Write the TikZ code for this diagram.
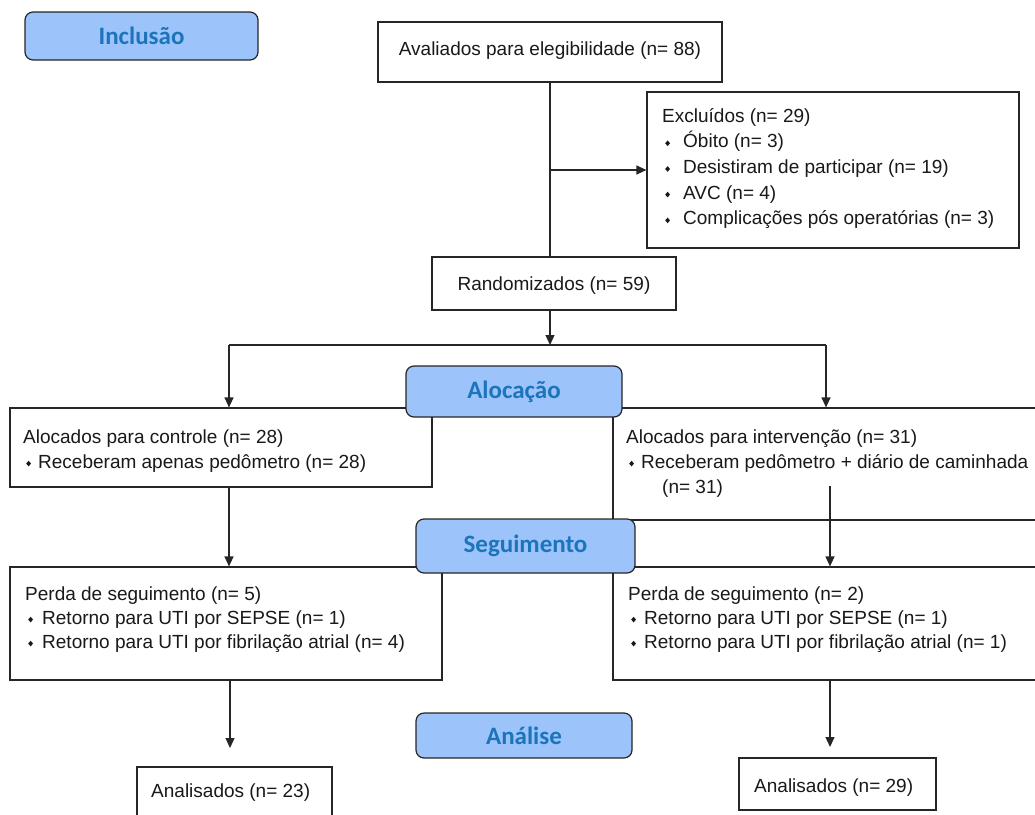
\documentclass[tikz,border=0pt]{standalone}
\usepackage{fontspec}
\setmainfont{Liberation Sans}
\newfontfamily\labfont{Carlito}
\usetikzlibrary{arrows.meta}
\definecolor{labfill}{HTML}{9DC3FB}
\definecolor{labtext}{HTML}{1C74BA}
\definecolor{linecol}{HTML}{262626}
\newcommand\bul{\raisebox{1.6pt}{\scalebox{0.85}[1]{\rotatebox{45}{\rule{4pt}{4pt}}}}}
\begin{document}
\begin{tikzpicture}[x=1pt,y=-1pt,
  box/.style={draw=linecol,line width=1.2pt,fill=white,inner sep=0pt},
  lab/.style={draw=linecol,line width=1.2pt,fill=labfill,rounded corners=8pt,inner sep=0pt,font={\labfont\bfseries\fontsize{25}{30}\selectfont},text=labtext},
  txt/.style={inner sep=0pt,anchor=base west,font={\fontsize{19}{22}\selectfont},text=black!90},
  conn/.style={draw=linecol,line width=1.2pt},
  arr/.style={conn,-{Triangle[length=10pt,width=9pt]}}]
\useasboundingbox (0,0) rectangle (1035,814);
\clip (0,0) rectangle (1035,814);
% boxes
\node[box,minimum width=344,minimum height=60] (aval) at (550,52) {};
\node[box,minimum width=372,minimum height=156] (excl) at (833,170) {};
\node[box,minimum width=244,minimum height=53] (rand) at (554,283.5) {};
\node[box,minimum width=422,minimum height=79] (ctrl) at (221,447.5) {};
\node[box,minimum width=447,minimum height=112] (intv) at (836.5,464) {};
\node[box,minimum width=432,minimum height=113] (perdaL) at (226,623.5) {};
\node[box,minimum width=447,minimum height=113] (perdaR) at (836.5,623.5) {};
\node[box,minimum width=195,minimum height=73] (anaL) at (234.5,803.5) {};
\node[box,minimum width=197,minimum height=52] (anaR) at (837.5,784) {};
% texts
\node[txt,anchor=base] (tav) at (550,55) {Avaliados para elegibilidade (n= 88)};
\node[txt] (te0) at (662,122) {Excluídos (n= 29)};
\node[txt] (te1) at (665,147.7) {\makebox[18pt][l]{\bul}Óbito (n= 3)};
\node[txt] (te2) at (665,173.4) {\makebox[18pt][l]{\bul}Desistiram de participar (n= 19)};
\node[txt] (te3) at (665,199) {\makebox[18pt][l]{\bul}AVC (n= 4)};
\node[txt] (te4) at (665,224.8) {\makebox[18pt][l]{\bul}Complicações pós operatórias (n= 3)};
\node[txt,anchor=base] (tra) at (554,290) {Randomizados (n= 59)};
\node[txt] (tc0) at (23,443) {Alocados para controle (n= 28)};
\node[txt] (tc1) at (26,468) {\makebox[12pt][l]{\bul}Receberam apenas pedômetro (n= 28)};
\node[txt] (ti0) at (626,443) {Alocados para intervenção (n= 31)};
\node[txt] (ti1) at (629,468) {\makebox[12pt][l]{\bul}Receberam pedômetro + diário de caminhada};
\node[txt] (ti2) at (662,493) {(n= 31)};
\node[txt] (tpl0) at (25,600) {Perda de seguimento (n= 5)};
\node[txt] (tpl1) at (28,624) {\makebox[14pt][l]{\bul}Retorno para UTI por SEPSE (n= 1)};
\node[txt] (tpl2) at (28,648) {\makebox[14pt][l]{\bul}Retorno para UTI por fibrilação atrial (n= 4)};
\node[txt] (tpr0) at (628,600) {Perda de seguimento (n= 2)};
\node[txt] (tpr1) at (631,624) {\makebox[13pt][l]{\bul}Retorno para UTI por SEPSE (n= 1)};
\node[txt] (tpr2) at (631,648) {\makebox[13pt][l]{\bul}Retorno para UTI por fibrilação atrial (n= 1)};
\node[txt] (tal) at (151,797) {Analisados (n= 23)};
\node[txt] (tar) at (754,792) {Analisados (n= 29)};
% junction coordinates
\coordinate (j1) at (550,170);
\coordinate (hl) at (229,345);
\coordinate (hr) at (826,345);
\coordinate (hm) at (550,345);
\coordinate (i1) at (830,486);
\coordinate (eL) at (230,748);
\coordinate (eR) at (830,747);
% connectors
\draw[conn] (aval.south) -- (aval.south |- rand.north);
\draw[arr] (j1) -- (j1 -| excl.west);
\draw[arr] (hm |- rand.south) -- (hm);
\draw[conn] (hl) -- (hr);
\draw[arr] (hl) -- (hl |- ctrl.north);
\draw[arr] (hr) -- (hr |- intv.north);
\draw[arr] (ctrl.south -| hl) -- (perdaL.north -| hl);
\draw[arr] (i1) -- (i1 |- perdaR.north);
\draw[arr] (perdaL.south -| eL) -- (eL);
\draw[arr] (perdaR.south -| eR) -- (eR);
% stage labels
\node[lab,minimum width=233,minimum height=48] (inc) at (141.5,36) {Inclusão};
\node[lab,minimum width=216,minimum height=51] (aloc) at (514,391.5) {Alocação};
\node[lab,minimum width=219,minimum height=54] (seg) at (525.5,546) {Seguimento};
\node[lab,minimum width=216,minimum height=45] (anal) at (524,735.5) {Análise};
\end{tikzpicture}
\end{document}
